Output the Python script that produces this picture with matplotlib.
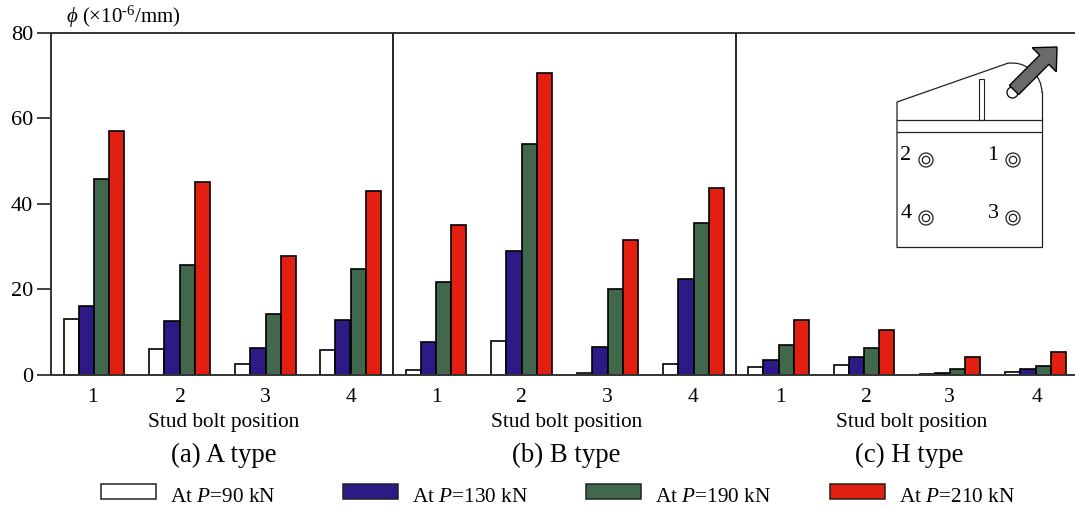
import numpy as np
import matplotlib.pyplot as plt
from matplotlib.patches import Rectangle, Circle, Arc, FancyArrow

plt.rcParams['font.family'] = ['Liberation Serif', 'DejaVu Serif']
plt.rcParams['mathtext.fontset'] = 'custom'
plt.rcParams['mathtext.rm'] = 'Liberation Serif'
plt.rcParams['mathtext.it'] = 'Liberation Serif:italic'

W, H = 1075, 508

# Curvature values, one array per load step, groups are A, B, H x bolts 1-4
p90 = [13, 6, 2.5, 5.8, 1.1, 7.8, 0.4, 2.5, 1.7, 2.2, 0.2, 0.7]
p130 = [16, 12.5, 6.3, 12.7, 7.6, 29, 6.5, 22.3, 3.4, 4.0, 0.4, 1.4]
p190 = [45.8, 25.6, 14.2, 24.7, 21.6, 54, 20, 35.4, 7, 6.1, 1.2, 2.1]
p210 = [57, 45, 27.8, 43, 35, 70.6, 31.5, 43.8, 12.7, 10.5, 4, 5.2]

series = [p90, p130, p190, p210]
labels = ['At $\\mathit{P}$=90 kN', 'At $\\mathit{P}$=130 kN',
          'At $\\mathit{P}$=190 kN', 'At $\\mathit{P}$=210 kN']
colors = ['white', '#2E1A87', '#41684A', '#E21F10']
bolts = ['1', '2', '3', '4'] * 3
types = ['(a) A type', '(b) B type', '(c) H type']
yticks = [0, 20, 40, 60, 80]

fig = plt.figure(figsize=(W / 100, H / 100), dpi=100)
ax = fig.add_axes([51 / W, 1 - 374.5 / H, 1 - 51 / W, (374.5 - 33) / H])

# x axis is in image pixels, simplest way to hold the uneven group spacing
centers = [94, 179.5, 265.5, 350.5, 436, 521.5, 607.5, 693.5, 778.5, 864, 950, 1035.5]
label_x = [92, 180, 265, 351, 436, 521, 607, 693, 780, 866, 949, 1037]
bar_w = 15.2
for i, vals in enumerate(series):
    ax.bar(np.array(centers) + (i - 1.5) * bar_w, vals, bar_w, color=colors[i],
           edgecolor='black', linewidth=1.2)

ax.set_xlim(51, W)
ax.set_ylim(0, 80)
ax.set_yticks(yticks)
ax.set_xticks([])
ax.tick_params(axis='y', length=10, width=1.3, labelsize=16, pad=3, color='#333333')
for name in ['left', 'top', 'bottom']:
    ax.spines[name].set_linewidth(1.4)
    ax.spines[name].set_color('#333333')
ax.spines['right'].set_visible(False)
for x in [393, 736]:
    ax.axvline(x, color='#222222', lw=1.4)

# overlay in image pixels for the texts, legend and inset sketch
ov = fig.add_axes([0, 0, 1, 1])
ov.set_xlim(0, W)
ov.set_ylim(H, 0)
ov.axis('off')

ov.text(66, 17, '$\\mathit{\\phi}$ (×10$^{\\text{-6}}$/mm)', fontsize=15, va='center')

for x, b in zip(label_x, bolts):
    ov.text(x, 397, b, fontsize=15.5, ha='center', va='center')
for x in [223.5, 567, 912]:
    ov.text(x, 423, 'Stud bolt position', fontsize=15.3, ha='center', va='center')
for x, t in zip([224, 566, 909], types):
    ov.text(x, 455, t, fontsize=19.3, ha='center', va='center')

legend_x = [101, 343, 586, 830]
for x, col, lab in zip(legend_x, colors, labels):
    ov.add_patch(Rectangle((x, 484), 55, 15, fc=col, ec='#222222', lw=1.1))
    ov.text(x + 69, 497, lab, fontsize=15.3, va='center')

# inset: plate with stud positions
lc = '#222222'
ov.plot([897, 897, 1007], [247, 102, 63.5], color=lc, lw=0.9)
ov.plot([897, 1042, 1042], [247, 247, 92], color=lc, lw=0.9)
ov.add_patch(Arc((1012, 93), 60, 60, theta1=260, theta2=360, color=lc, lw=0.9))
ov.plot([897, 1042], [120, 120], color=lc, lw=0.9)
ov.plot([897, 1042], [132, 132], color=lc, lw=0.9)
ov.add_patch(Rectangle((979, 79), 5, 41, fc='white', ec=lc, lw=0.8))
for (x, y), b in zip([(1013, 160), (926, 160), (1013, 218), (926, 218)], '1234'):
    ov.add_patch(Circle((x, y), 7, fc='white', ec=lc, lw=0.9))
    ov.add_patch(Circle((x, y), 3.7, fc='white', ec=lc, lw=0.9))
    ov.text(x - 20, y - 4, b, fontsize=16, ha='center', va='center')
ov.add_patch(Circle((1012.5, 92.5), 5.5, fc='white', ec='black', lw=0.9))
ov.add_patch(FancyArrow(1014, 90, 43, -43, width=13, head_width=34, head_length=18,
                        length_includes_head=True, fc='#6A6A6A', ec='black', lw=1))

fig.savefig('out.png', dpi=100)
